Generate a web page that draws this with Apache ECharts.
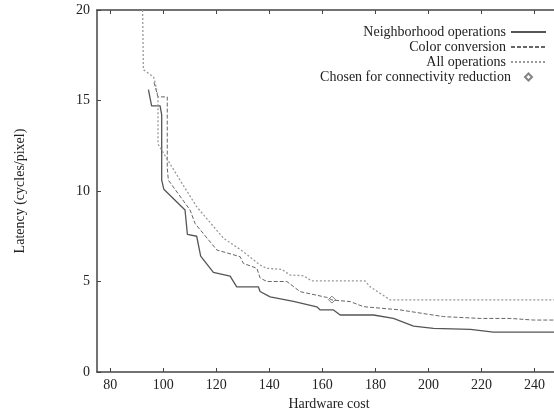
<!DOCTYPE html>
<html>
<head>
<meta charset="utf-8">
<script src="https://cdn.jsdelivr.net/npm/echarts@6/dist/echarts.min.js"></script>
<style>
  html, body { margin: 0; padding: 0; overflow: hidden; background: #fff; }
  #myChart { width: 564px; height: 418px; }
</style>
</head>
<body>
<div id="myChart"></div>
<script>
// tick labels
var xTicks = [80, 100, 120, 140, 160, 180, 200, 220, 240];

// [hardware cost, latency]
var neighborhood = [
  [94.4, 15.6], [95.6, 14.7], [98.8, 14.7], [99.4, 14.2], [99.4, 10.6], [100.2, 10.1],
  [108.2, 8.95], [109.1, 7.6], [112.6, 7.5], [114.1, 6.4], [118.9, 5.5], [125.2, 5.3],
  [127.7, 4.7], [135.9, 4.7], [136.5, 4.45], [140.3, 4.15], [149.1, 3.9], [157.9, 3.6],
  [159.2, 3.43], [164.2, 3.43], [166.7, 3.15], [179.3, 3.15], [186.8, 2.96], [194.4, 2.54],
  [201.9, 2.41], [215.8, 2.36], [224.5, 2.2], [250, 2.2]
];
var colorConversion = [
  [96.5, 16.0], [98, 15.2], [101.5, 15.2], [101.5, 11.3], [101.9, 10.6], [110.1, 8.95],
  [112, 8.2], [120.2, 6.74], [129, 6.37], [130.2, 6.0], [135.3, 5.73], [136.5, 5.2],
  [139, 5.0], [146.6, 5.0], [151.6, 4.44], [161.7, 4.12], [163.6, 3.98], [170.5, 3.89],
  [175.5, 3.61], [189.3, 3.43], [199.4, 3.2], [205.7, 3.06], [219.5, 2.96], [230.8, 2.96],
  [239.6, 2.87], [250, 2.87]
];
var allOperations = [
  [92.2, 20], [92.5, 16.7], [96.3, 16.3], [96.9, 16.0], [98, 15.2], [98, 12.6],
  [106.3, 10.6], [112.6, 9.13], [122.7, 7.39], [130.2, 6.65], [136.5, 5.91], [139, 5.73],
  [144.7, 5.67], [147.8, 5.36], [152.8, 5.32], [156, 5.03], [176.1, 5.03], [178, 4.71],
  [185.6, 3.98], [250, 3.98]
];
var chosen = [[163.6, 4.0]];

var myChart = echarts.init(document.getElementById('myChart'));
var font = 'Liberation Serif';
var axisCol = '#444';

var legendBase = {
  orient: 'vertical',
  align: 'right',
  right: 17,
  padding: 0,
  itemWidth: 35,
  itemHeight: 10,
  selectedMode: false,
  itemStyle: { opacity: 0 },
  textStyle: { fontFamily: font, fontSize: 14, color: '#222', lineHeight: 14 }
};

var option = {
  animation: false,
  backgroundColor: '#fff',
  grid: { left: 97, right: 3, top: 10, bottom: 46 },
  legend: [
    Object.assign({}, legendBase, { top: 25, data: ['Neighborhood operations'] }),
    Object.assign({}, legendBase, { top: 40, data: ['Color conversion'] }),
    Object.assign({}, legendBase, { top: 55, data: ['All operations'] }),
    Object.assign({}, legendBase, {
      top: 70, right: 31, itemWidth: 7, itemHeight: 7,
      itemStyle: {},
      data: ['Chosen for connectivity reduction'],
      textStyle: { fontFamily: font, fontSize: 14, color: '#222', lineHeight: 14, padding: [0, 9, 0, 0] }
    })
  ],
  xAxis: [{
    type: 'value', min: 75, max: 250, position: 'bottom',
    name: 'Hardware cost', nameLocation: 'middle', nameGap: 24,
    nameTextStyle: { fontFamily: font, fontSize: 14, color: '#222' },
    axisLine: { lineStyle: { color: axisCol, width: 1.5 } },
    axisTick: { inside: true, length: 4, customValues: xTicks, lineStyle: { color: axisCol } },
    axisLabel: { customValues: xTicks, margin: 6, fontFamily: font, fontSize: 14, color: '#222' },
    splitLine: { show: false }
  }, {
    type: 'value', min: 75, max: 250, position: 'top',
    axisLine: { lineStyle: { color: axisCol, width: 1.5 } },
    axisTick: { inside: true, length: 4, customValues: xTicks, lineStyle: { color: axisCol } },
    axisLabel: { show: false },
    splitLine: { show: false }
  }],
  yAxis: {
    type: 'value', min: 0, max: 20, interval: 5,
    name: 'Latency (cycles/pixel)', nameLocation: 'middle', nameGap: 70,
    nameTextStyle: { fontFamily: font, fontSize: 14, color: '#222' },
    axisLine: { show: true, lineStyle: { color: axisCol, width: 1.5 } },
    axisTick: { show: true, inside: true, length: 4, lineStyle: { color: axisCol } },
    axisLabel: { margin: 7, fontFamily: font, fontSize: 14, color: '#222' },
    splitLine: { show: false }
  },
  series: [{
    name: 'Neighborhood operations', type: 'line', data: neighborhood,
    symbol: 'none', color: '#555',
    lineStyle: { color: '#555', width: 1.3, type: 'solid' }
  }, {
    name: 'Color conversion', type: 'line', data: colorConversion,
    symbol: 'none', color: '#666',
    lineStyle: { color: '#666', width: 1, type: [4, 2] }
  }, {
    name: 'All operations', type: 'line', data: allOperations,
    symbol: 'none', color: '#999',
    lineStyle: { color: '#999', width: 1.3, type: [2, 2] }
  }, {
    name: 'Chosen for connectivity reduction', type: 'scatter', data: chosen,
    symbol: 'diamond', symbolSize: 7,
    itemStyle: { color: '#fff', borderColor: '#666', borderWidth: 1 }
  }]
};
myChart.setOption(option);
</script>
</body>
</html>
